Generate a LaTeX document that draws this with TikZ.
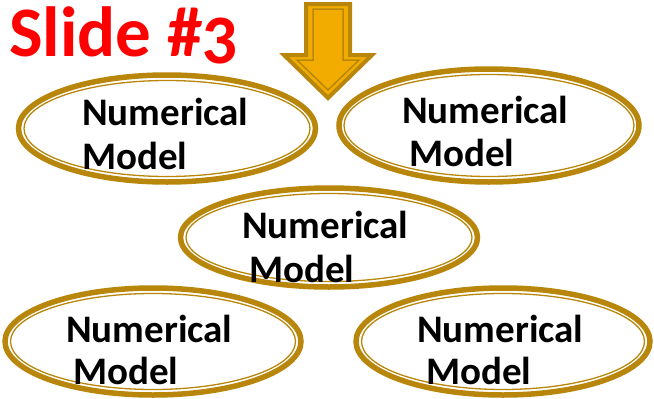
\documentclass[tikz,border=0pt]{standalone}
\usepackage{fontspec}
\setmainfont{Carlito}
\newfontfamily\titlefont[Numbers=OldStyle]{Carlito}
\usetikzlibrary{shapes.geometric}
\definecolor{goldline}{HTML}{B8860B}
\definecolor{arrowfill}{HTML}{F2AC00}
\definecolor{slidered}{HTML}{FF0000}
\tikzset{
  ell/.style={ellipse, draw=goldline, line width=5.5pt, inner sep=0pt,
    minimum width=297pt, minimum height=108pt},
  ellin/.style={draw=goldline, line width=1.3pt},
  lbl/.style={anchor=base west, inner sep=0pt, font=\fontsize{39}{43}\selectfont\bfseries}
}
\begin{document}
\begin{tikzpicture}[x=1pt,y=-1pt]
\useasboundingbox (0,0) rectangle (654,399);
% title
\node[anchor=base west, inner sep=0pt, text=slidered, font=\fontsize{71}{75}\selectfont\bfseries\titlefont] (title) at (9,56) {Slide \#3};
% arrow
\draw[draw=goldline, fill=arrowfill, line width=4pt, line join=miter]
  (306,4) -- (350,4) -- (350,55) -- (372,55) -- (328,98) -- (284,55) -- (306,55) -- cycle;
\draw[draw=goldline, line width=1.5pt, line join=miter]
  (313,9) -- (343,9) -- (343,60) -- (359,60) -- (328,90) -- (297,60) -- (313,60) -- cycle;
% ellipses
\node[ell, minimum width=297pt, minimum height=107pt] (e1) at (167,128.5) {};
\node[ell, minimum width=300pt, minimum height=113pt] (e2) at (489,125.5) {};
\node[ell, minimum width=297pt, minimum height=99pt] (e3) at (329,237.5) {};
\node[ell, minimum width=296pt, minimum height=107pt] (e4) at (153,341.5) {};
\node[ell, minimum width=294pt, minimum height=107pt] (e5) at (503,341.5) {};
\draw[ellin] (e1.center) ellipse[x radius=143, y radius=48];
\draw[ellin] (e2.center) ellipse[x radius=145, y radius=51];
\draw[ellin] (e3.center) ellipse[x radius=143, y radius=44];
\draw[ellin] (e4.center) ellipse[x radius=142.5, y radius=48];
\draw[ellin] (e5.center) ellipse[x radius=141.5, y radius=48];
% labels
\node[lbl] (n1) at (82,125) {Numerical};
\node[lbl] (m1) at (82,169) {Model};
\node[lbl] (n2) at (402,123) {Numerical};
\node[lbl] (m2) at (409,166) {Model};
\node[lbl] (n3) at (242,238) {Numerical};
\node[lbl] (m3) at (249,282) {Model};
\node[lbl] (n4) at (66,342) {Numerical};
\node[lbl] (m4) at (73,384) {Model};
\node[lbl] (n5) at (417,342) {Numerical};
\node[lbl] (m5) at (426,384) {Model};
\end{tikzpicture}
\end{document}
